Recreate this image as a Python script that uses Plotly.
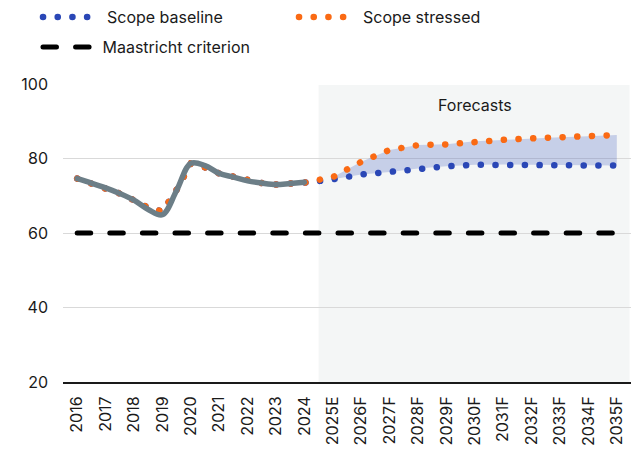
import plotly.graph_objects as go

# ---- data ----
hist_years = [2016, 2016.5, 2017, 2017.5, 2018, 2018.5, 2019, 2019.5, 2020,
              2020.5, 2021, 2021.5, 2022, 2022.5, 2023, 2023.5, 2024]
hist_debt = [74.6, 73.4, 72.1, 70.6, 68.8, 66.8, 65.8, 71.6, 78.6,
             77.6, 76.0, 75.0, 74.0, 73.4, 73.0, 73.2, 73.5]
hist_smoothed = [74.6, 73.4, 72.1, 70.6, 68.8, 66.3, 64.9, 71.4, 78.7,
                 78.1, 76.0, 75.0, 74.0, 73.4, 73.0, 73.3, 73.6]
forecast_years = [2025, 2026, 2027, 2028, 2029, 2030, 2031, 2032, 2033, 2034, 2035]
baseline = [74.4, 75.7, 76.4, 77.3, 77.9, 78.3, 78.4, 78.3, 78.2, 78.1, 78.1]
stressed = [75.0, 79.1, 82.3, 83.6, 83.8, 84.6, 85.0, 85.4, 85.7, 86.0, 86.3]
tick_years = list(range(2016, 2036))
tick_labels = ["2016", "2017", "2018", "2019", "2020", "2021", "2022", "2023", "2024",
               "2025E", "2026F", "2027F", "2028F", "2029F", "2030F", "2031F",
               "2032F", "2033F", "2034F", "2035F"]
maastricht = [60] * len(tick_years)

BLUE = "#2a47b6"
ORANGE = "#fa6a14"
GREY = "#6c7e87"
FONT = "Inter"
NB = "\u00a0\u00a0"

fig = go.Figure()

# band between scenarios
fig.add_trace(go.Scatter(
    x=forecast_years + forecast_years[::-1],
    y=stressed + baseline[::-1],
    fill="toself", fillcolor="rgba(30,60,180,0.21)",
    line=dict(width=0), mode="lines", showlegend=False, hoverinfo="skip"))

fig.add_trace(go.Scatter(
    x=tick_years, y=maastricht, mode="lines", name="\u00a0Maastricht criterion",
    line=dict(color="#000000", width=5, dash="13.5px,19.1px"), legend="legend2"))

fig.add_trace(go.Scatter(
    x=hist_years + forecast_years, y=hist_debt + baseline, mode="lines",
    name=NB + "Scope baseline", line=dict(color=BLUE, width=6.5, dash="0.1px,14.6px")))

fig.add_trace(go.Scatter(
    x=hist_years + forecast_years, y=hist_debt + stressed, mode="lines",
    name=NB + "Scope stressed", line=dict(color=ORANGE, width=6.5, dash="0.1px,14.6px")))

fig.add_trace(go.Scatter(
    x=hist_years, y=hist_smoothed, mode="lines", showlegend=False,
    line=dict(color=GREY, width=5.5, shape="spline", smoothing=1.0)))

# forecast shading
fig.add_shape(type="rect", xref="x", yref="y", x0=2024.5, x1=2035.45, y0=20, y1=99.7,
              fillcolor="#f4f6f6", line=dict(width=0), layer="below")

fig.add_annotation(x=2030, y=94.3, xref="x", yref="y", text="Forecasts",
                   showarrow=False, font=dict(family=FONT, size=16, color="#1a1a1a"))

fig.update_layout(
    width=633, height=453,
    margin=dict(l=63, r=2, t=84, b=71),
    paper_bgcolor="white", plot_bgcolor="white",
    font=dict(family=FONT, size=16, color="#1a1a1a"),
    legend=dict(orientation="h", xref="container", yref="container",
                x=0.06, y=1.0, xanchor="left", yanchor="top",
                entrywidth=191, itemwidth=50, font=dict(family=FONT, size=16),
                bgcolor="rgba(0,0,0,0)"),
    legend2=dict(orientation="h", xref="container", yref="container",
                 x=0.06, y=1 - 30 / 453, xanchor="left", yanchor="top",
                 itemwidth=50, font=dict(family=FONT, size=16),
                 bgcolor="rgba(0,0,0,0)"),
    xaxis=dict(range=[2015.5, 2035.5], tickmode="array", tickvals=tick_years,
               ticktext=tick_labels, tickangle=-90, showgrid=False, zeroline=False,
               showline=True, linecolor="#1a1a1a", linewidth=2, ticks="",
               ticklabelstandoff=6, tickfont=dict(size=16)),
    yaxis=dict(range=[20, 100], tickvals=[20, 40, 60, 80, 100], showgrid=True,
               gridcolor="#d9d9d9", gridwidth=1, zeroline=False, showline=False,
               ticks="", ticklabelstandoff=14, tickfont=dict(size=16)),
    showlegend=True,
)

post = """
var s = document.createElement('style');
s.innerHTML = 'html,body{margin:0;padding:0;} .js-line{stroke-linecap:round !important;}';
document.head.appendChild(s);
"""
fig.write_html("out.html", post_script=post, config={"displayModeBar": False})
